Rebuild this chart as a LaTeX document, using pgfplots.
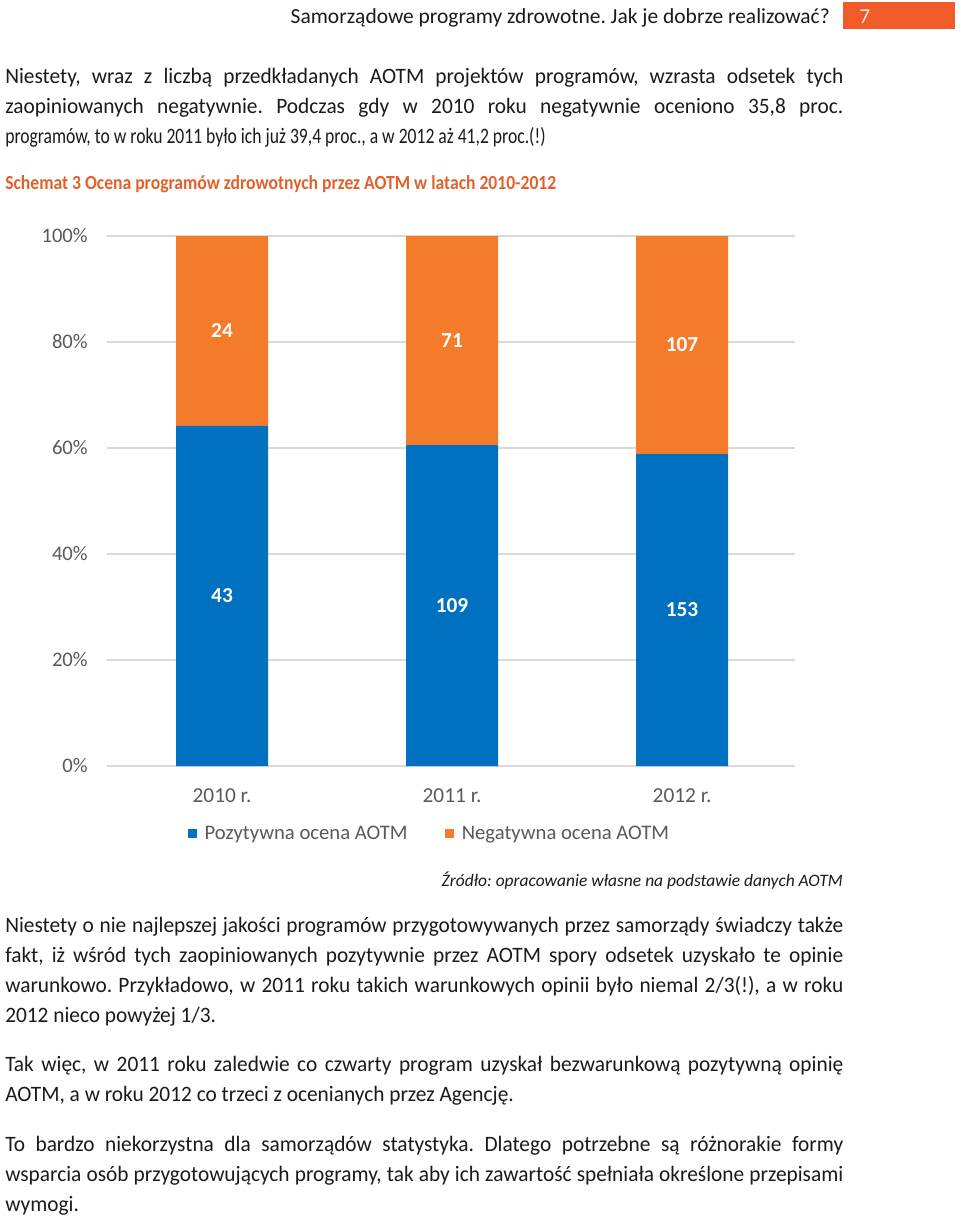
\documentclass[border=0pt]{standalone}
\usepackage{fontspec}
\setmainfont{Carlito}
\newfontfamily\bodyfont[FakeStretch=0.8]{Carlito}
\newfontfamily\bodyfontb[FakeStretch=0.97]{Carlito}
\newfontfamily\titlefont[FakeStretch=0.88]{Carlito}
\usepackage{pgfplots}
\pgfplotsset{compat=1.18}
\usepackage{pgfplotstable}
\definecolor{cblue}{HTML}{0070C0}
\definecolor{corange}{HTML}{F47B2A}
\definecolor{cgrid}{HTML}{D9D9D9}
\definecolor{ctick}{HTML}{595959}
\definecolor{ctitle}{HTML}{E3602A}
\definecolor{cpage}{HTML}{F15A29}
\definecolor{ctext}{HTML}{1A1A1A}
\frenchspacing

\pgfplotstableread{
x pos posn neg negn
0 64.18 43 35.82 24
1 60.56 109 39.44 71
2 58.85 153 41.15 107
}\datatable

\begin{document}
\frenchspacing
\begin{tikzpicture}
\path[use as bounding box] (0,0) rectangle (720pt,-915pt);
\begin{scope}[x=0.75pt,y=-0.75pt]
% header
\node[anchor=base east, inner sep=0pt, text=ctext, font=\fontsize{16.1}{18}\selectfont] at (830,24) {Samorządowe programy zdrowotne. Jak je dobrze realizować?};
\fill[cpage] (843,2) rectangle (955,29);
\node[anchor=base west, inner sep=0pt, text=white!85!cpage, font=\fontsize{16}{18}\selectfont] at (859,24) {7};
% paragraph 1
\node[anchor=base west, inner sep=0pt, text=ctext] at (5,84) {\parbox[t]{628.5pt}{\frenchspacing\bodyfontb\fontsize{16.5}{22.5}\selectfont
Niestety, wraz z liczbą przedkładanych AOTM projektów programów, wzrasta odsetek tych\linebreak
zaopiniowanych negatywnie. Podczas gdy w 2010 roku negatywnie oceniono 35,8 proc.\linebreak
{\bodyfont programów, to w roku 2011 było ich już 39,4 proc., a w 2012 aż 41,2 proc.(!)}}};
% title
\node[anchor=base west, inner sep=0pt, text=ctitle, font=\titlefont\bfseries\fontsize{15}{18}\selectfont] at (5,190) {Schemat 3 Ocena programów zdrowotnych przez AOTM w latach 2010-2012};
% source
\node[anchor=base east, inner sep=0pt, text=ctext, font=\fontsize{13.1}{15}\selectfont\itshape] at (843,886) {Źródło: opracowanie własne na podstawie danych AOTM};
% paragraph 2
\node[anchor=base west, inner sep=0pt, text=ctext] at (5,932) {\parbox[t]{628.5pt}{\frenchspacing\bodyfontb\fontsize{16.5}{22.7}\selectfont
Niestety o nie najlepszej jakości programów przygotowywanych przez samorządy świadczy także\linebreak
fakt, iż wśród tych zaopiniowanych pozytywnie przez AOTM spory odsetek uzyskało te opinie\linebreak
warunkowo. Przykładowo, w 2011 roku takich warunkowych opinii było niemal 2/3(!), a w roku\linebreak
2012 nieco powyżej 1/3.}};
% paragraph 3
\node[anchor=base west, inner sep=0pt, text=ctext] at (5,1071) {\parbox[t]{628.5pt}{\frenchspacing\bodyfontb\fontsize{16.5}{22.5}\selectfont
Tak więc, w 2011 roku zaledwie co czwarty program uzyskał bezwarunkową pozytywną opinię\linebreak
AOTM, a w roku 2012 co trzeci z ocenianych przez Agencję.}};
% paragraph 4
\node[anchor=base west, inner sep=0pt, text=ctext] at (5,1151) {\parbox[t]{628.5pt}{\frenchspacing\bodyfontb\fontsize{16.5}{22.5}\selectfont
To bardzo niekorzystna dla samorządów statystyka. Dlatego potrzebne są różnorakie formy\linebreak
wsparcia osób przygotowujących programy, tak aby ich zawartość spełniała określone przepisami\linebreak
wymogi.}};
\end{scope}

\pgfplotsset{common/.style={
  scale only axis, width=516pt, height=397.5pt,
  at={(80.25pt,-574.5pt)}, anchor=south west,
  xmin=-0.5, xmax=2.491, ymin=0, ymax=100}}

\begin{axis}[common,
  ybar stacked, bar width=69pt,
  legend image code/.code={\fill[#1] (0pt,-3.4pt) rectangle (6.75pt,3.4pt);},
  axis line style={draw=none}, tick style={draw=none},
  ymajorgrids, grid style={cgrid, line width=0.8pt},
  ytick={0,20,40,60,80,100},
  yticklabel={\pgfmathprintnumber{\tick}\%},
  yticklabel style={anchor=east, inner sep=0pt, xshift=-14.25pt, text=ctick, font=\fontsize{15.5}{18}\selectfont},
  xtick={0,1,2}, xticklabels={2010 r., 2011 r., 2012 r.},
  xticklabel style={anchor=base, inner sep=0pt, yshift=-27pt, text=ctick, font=\fontsize{16}{18}\selectfont},
  /pgf/number format/assume math mode=true,
  legend style={at={(0.469,-0.128)}, anchor=center, draw=none, fill=none,
    legend columns=2, font=\fontsize{15.5}{18}\selectfont, text=ctick,
    /tikz/every odd column/.append style={column sep=4pt},
    /tikz/every even column/.append style={column sep=26pt}},
]
\addplot[fill=cblue, draw=none] table[x=x, y=pos]{\datatable};
\addplot[fill=corange, draw=none] table[x=x, y=neg]{\datatable};
\legend{Pozytywna ocena AOTM, Negatywna ocena AOTM}
\end{axis}

\begin{axis}[common, hide axis]
\addplot[draw=none, mark=none, nodes near coords, point meta=explicit symbolic,
  nodes near coords style={anchor=center, text=white, font=\bfseries\fontsize{16}{18}\selectfont}]
  table[x=x, y expr=\thisrow{pos}/2, meta=posn]{\datatable};
\addplot[draw=none, mark=none, nodes near coords, point meta=explicit symbolic,
  nodes near coords style={anchor=center, text=white, font=\bfseries\fontsize{16}{18}\selectfont}]
  table[x=x, y expr=\thisrow{pos}+\thisrow{neg}/2, meta=negn]{\datatable};
\end{axis}
\end{tikzpicture}
\end{document}
